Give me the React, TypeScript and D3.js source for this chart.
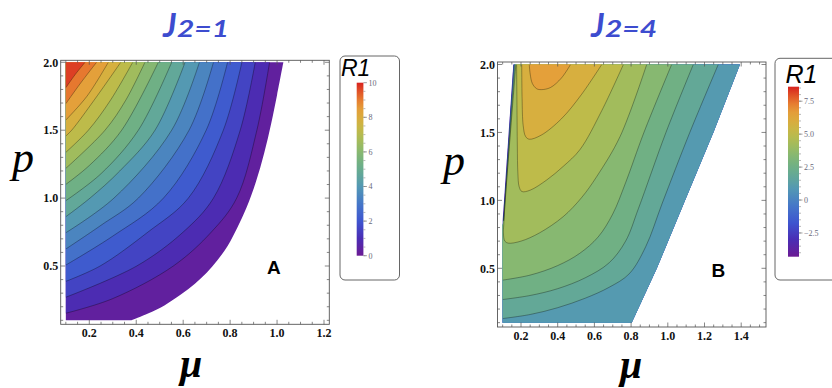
import React from 'react';
import * as d3 from 'd3';

type Pt = [number, number];

// ---------- shared ----------
const pTicks = [0.5, 1.0, 1.5, 2.0];

// Mathematica-like "Rainbow" colour ramp, position 0..1 along the legend
const rainbowT = [0, 0.1, 0.2, 0.3, 0.4, 0.47, 0.535, 0.6, 0.66, 0.72, 0.78, 0.845, 0.91, 1];
const rainbowC = ['#6b1a94', '#4a2db4', '#3e55cf', '#4577c8', '#5398b4', '#62a898', '#70b084',
  '#88b870', '#a2bc5c', '#bebb4a', '#d6b03f', '#e4a03a', '#e6762e', '#d8221e'];
const rainbow = d3.scaleLinear<string>().domain(rainbowT).range(rainbowC).interpolate(d3.interpolateRgb);

// ---------- panel A : J2 = 1 ----------
const muTicksA = [0.2, 0.4, 0.6, 0.8, 1.0, 1.2];
const legendA = [0, 10];
const legendTicksA = [0, 2, 4, 6, 8, 10];
const levelsA = [0.625, 1.25, 1.875, 2.5, 3.125, 3.75, 4.375, 5, 5.625, 6.25, 6.875, 7.5, 8.125, 8.75, 9.375];
// level curves [mu, p], lowest level first
const curvesA: Pt[][] = [
  [[0.1, 0.152], [0.3, 0.26], [0.558, 0.5], [0.72, 0.75], [0.828, 1.0], [0.914, 1.5], [0.968, 2.0]],
  [[0.1, 0.27], [0.402, 0.5], [0.6, 0.75], [0.729, 1.0], [0.843, 1.5], [0.907, 2.0]],
  [[0.1, 0.387], [0.246, 0.5], [0.45, 0.75], [0.622, 1.0], [0.771, 1.5], [0.85, 2.0]],
  [[0.1, 0.507], [0.3, 0.72], [0.516, 1.0], [0.698, 1.5], [0.789, 2.0]],
  [[0.1, 0.625], [0.25, 0.8], [0.409, 1.0], [0.625, 1.5], [0.729, 2.0]],
  [[0.1, 0.745], [0.305, 1.0], [0.551, 1.5], [0.669, 2.0]],
  [[0.1, 0.863], [0.203, 1.0], [0.33, 1.2], [0.48, 1.5], [0.608, 2.0]],
  [[0.1, 0.981], [0.25, 1.18], [0.409, 1.5], [0.551, 2.0]],
  [[0.1, 1.101], [0.2, 1.24], [0.338, 1.5], [0.494, 2.0]],
  [[0.1, 1.219], [0.267, 1.5], [0.355, 1.72], [0.437, 2.0]],
  [[0.1, 1.337], [0.196, 1.5], [0.29, 1.72], [0.385, 2.0]],
  [[0.1, 1.457], [0.125, 1.5], [0.22, 1.72], [0.334, 2.0]],
  [[0.1, 1.575], [0.19, 1.75], [0.281, 2.0]],
  [[0.1, 1.695], [0.16, 1.84], [0.231, 2.0]],
  [[0.1, 1.813], [0.14, 1.91], [0.182, 2.0]],
];
// right edge of the region where R1 is defined
const edgeA: Pt[] = [[1.027, 2.0], [1.0, 1.76], [0.975, 1.55], [0.945, 1.33], [0.91, 1.12], [0.87, 0.93],
  [0.83, 0.78], [0.79, 0.65], [0.745, 0.54], [0.7, 0.45], [0.65, 0.37], [0.59, 0.29], [0.52, 0.21],
  [0.45, 0.15], [0.38, 0.1]];

// ---------- panel B : J2 = 4 ----------
const muTicksB = [0.2, 0.4, 0.6, 0.8, 1.0, 1.2, 1.4];
const legendB = [-4.3, 8.6];
const legendTicksB = [-2.5, 0, 2.5, 5, 7.5];
const levelsB = [-1.8, -1.0, -0.2, 0.6, 1.4, 2.2, 3.0, 3.8, 4.6, 5.4, 6.2];
const topB = 7.0;
// steep parts of the lower levels along the cut on the left: [mu at p=2, mu at p=0.85]
const stripB: Pt[] = [[0.1595, 0.1038], [0.161, 0.1042], [0.1625, 0.1046], [0.164, 0.105],
  [0.1655, 0.1054], [0.167, 0.1058], [0.1685, 0.1062]];
// levels 1.4, 2.2, 3.0 : from the left edge to the top edge
const risingB: Pt[][] = [
  [[0.1, 0.13], [0.25, 0.16], [0.4, 0.21], [0.55, 0.28], [0.68, 0.36], [0.79, 0.46], [0.88, 0.66], [0.97, 0.98], [1.12, 1.5], [1.275, 2.0]],
  [[0.1, 0.27], [0.25, 0.3], [0.4, 0.35], [0.55, 0.43], [0.68, 0.54], [0.77, 0.7], [0.84, 0.94], [0.99, 1.5], [1.139, 2.0]],
  [[0.1, 0.413], [0.25, 0.45], [0.4, 0.52], [0.52, 0.61], [0.62, 0.73], [0.7, 0.9], [0.77, 1.13], [0.87, 1.5], [1.021, 2.0]],
];
// levels 3.8 .. 6.2 : cups opening to the top edge
const cupsB: Pt[][] = [
  [[0.172, 2.0], [0.114, 1.0], [0.106, 0.82], [0.104, 0.76], [0.112, 0.7], [0.13, 0.685], [0.2, 0.7], [0.3, 0.76],
    [0.43, 0.88], [0.53, 1.02], [0.613, 1.176], [0.74, 1.47], [0.885, 2.0]],
  [[0.176, 2.0], [0.178, 1.7], [0.18, 1.4], [0.183, 1.2], [0.19, 1.1], [0.205, 1.065], [0.25, 1.075], [0.34, 1.15],
    [0.43, 1.25], [0.521, 1.373], [0.64, 1.66], [0.758, 2.0]],
  [[0.204, 2.0], [0.206, 1.75], [0.212, 1.55], [0.225, 1.47], [0.245, 1.45], [0.31, 1.48], [0.42, 1.6], [0.53, 1.78], [0.64, 2.0]],
  [[0.245, 2.0], [0.25, 1.93], [0.262, 1.86], [0.285, 1.822], [0.31, 1.815], [0.36, 1.83], [0.42, 1.9], [0.47, 2.0]],
];
const edgeB: Pt[] = [[0.1, 0.1], [0.1, 0.85], [0.158, 2.0], [1.393, 2.0], [1.248, 1.5], [1.094, 1.0], [0.94, 0.5], [0.803, 0.1]];

const serif = '"Liberation Serif", "Times New Roman", serif';
const sans = '"Liberation Sans", Arial, sans-serif';

type Frame = { x0: number; x1: number; y0: number; y1: number };

function Axes({ x, y, frame, muTicks }: { x: d3.ScaleLinear<number, number>; y: d3.ScaleLinear<number, number>; frame: Frame; muTicks: number[] }) {
  const muMin = x.invert(frame.x0), muMax = x.invert(frame.x1);
  const pMin = y.invert(frame.y1), pMax = y.invert(frame.y0);
  const minorMu = d3.range(0, 2, 0.05).map(v => +v.toFixed(2)).filter(v => v > muMin && v < muMax);
  const minorP = d3.range(0, 2.2, 0.1).map(v => +v.toFixed(2)).filter(v => v > pMin && v < pMax);
  const isMajorMu = (v: number) => muTicks.some(t => Math.abs(t - v) < 1e-6);
  const isMajorP = (v: number) => pTicks.some(t => Math.abs(t - v) < 1e-6);
  const f = d3.format('.1f');
  const col = '#555';
  return (
    <g>
      <rect x={frame.x0} y={frame.y0} width={frame.x1 - frame.x0} height={frame.y1 - frame.y0}
        fill="none" stroke={col} strokeWidth={0.9} />
      {minorMu.map(v => {
        const len = isMajorMu(v) ? 4.5 : 2.5;
        return (
          <g key={'mx' + v}>
            <line x1={x(v)} x2={x(v)} y1={frame.y1} y2={frame.y1 - len} stroke={col} strokeWidth={0.7} />
            <line x1={x(v)} x2={x(v)} y1={frame.y0} y2={frame.y0 + len} stroke={col} strokeWidth={0.7} />
          </g>
        );
      })}
      {minorP.map(v => {
        const len = isMajorP(v) ? 4.5 : 2.5;
        return (
          <g key={'my' + v}>
            <line y1={y(v)} y2={y(v)} x1={frame.x0} x2={frame.x0 + len} stroke={col} strokeWidth={0.7} />
            <line y1={y(v)} y2={y(v)} x1={frame.x1} x2={frame.x1 - len} stroke={col} strokeWidth={0.7} />
          </g>
        );
      })}
      {muTicks.map(v => (
        <text key={'lx' + v} x={x(v)} y={frame.y1 + 12.5} textAnchor="middle" fontFamily={serif}
          fontWeight={700} fontSize={12} fill="#111">{f(v)}</text>
      ))}
      {pTicks.map(v => (
        <text key={'ly' + v} x={frame.x0 - 2.5} y={y(v)} dy="0.35em" textAnchor="end" fontFamily={serif}
          fontWeight={700} fontSize={12} fill="#111">{f(v)}</text>
      ))}
    </g>
  );
}

function Legend({ box, bar, domain, ticks, labelX, r1 }: {
  box: { x: number; y: number; w: number; h: number };
  bar: { x: number; w: number; y0: number; y1: number };
  domain: number[]; ticks: number[]; labelX: number;
  r1: { x: number; y: number; size: number };
}) {
  const s = d3.scaleLinear().domain(domain).range([bar.y1, bar.y0]);
  const minor = d3.range(Math.ceil(domain[0] * 2) / 2, domain[1], 0.5);
  const fmt = (v: number) => (v === 0 ? '0' : Number.isInteger(v) && domain[1] > 9 ? String(v) : d3.format('.1f')(v));
  return (
    <g>
      <rect x={box.x} y={box.y} width={box.w} height={box.h} rx={5} fill="#fff" stroke="#555" strokeWidth={0.9} />
      <rect x={bar.x} y={bar.y0} width={bar.w} height={bar.y1 - bar.y0} fill="url(#rainbowGrad)" />
      {minor.map(v => (
        <line key={'m' + v} x1={bar.x + bar.w} x2={bar.x + bar.w + 2} y1={s(v)} y2={s(v)} stroke="#888" strokeWidth={0.6} />
      ))}
      {ticks.map(v => (
        <g key={'t' + v}>
          <line x1={bar.x + bar.w} x2={bar.x + bar.w + 3.5} y1={s(v)} y2={s(v)} stroke="#777" strokeWidth={0.7} />
          <text x={labelX} y={s(v)} dy="0.35em" fontFamily={serif} fontSize={8} fill="#6a6a7a">
            {fmt(v).replace('-', '\u2212')}
          </text>
        </g>
      ))}
      <text x={r1.x} y={r1.y} fontFamily={sans} fontStyle="italic" fontSize={r1.size} fill="#000">R1</text>
    </g>
  );
}

function PanelA() {
  const x = d3.scaleLinear().domain([0.2, 1.2]).range([89.3, 324]);
  const y = d3.scaleLinear().domain([0.5, 2.0]).range([266, 62.3]);
  const frame = { x0: 60.7, x1: 329.3, y0: 60.3, y1: 324.3 };
  const line = d3.line<Pt>().x(d => x(d[0])).y(d => y(d[1])).curve(d3.curveCatmullRom.alpha(0.5));
  const edges = [legendA[0], ...levelsA, legendA[1]];
  const band = (i: number) => rainbow(((edges[i] + edges[i + 1]) / 2 - legendA[0]) / (legendA[1] - legendA[0]));
  const clip = `M${x(0.1)},${y(0.1)}L${x(0.1)},${y(2)}` + (line(edgeA) as string).replace(/^M/, 'L') + 'Z';
  return (
    <g>
      <defs>
        <clipPath id="clipA"><path d={clip} /></clipPath>
      </defs>
      <g clipPath="url(#clipA)">
        <rect x={0} y={0} width={420} height={388} fill={band(0)} />
        {curvesA.map((c, i) => {
          const last = c[c.length - 1];
          const d = (line(c) as string) + `L${x(last[0])},${y(2.3)}L${x(0)},${y(2.3)}L${x(0)},${y(c[0][1])}Z`;
          return <path key={i} d={d} fill={band(i + 1)} />;
        })}
        {curvesA.map((c, i) => (
          <path key={'s' + i} d={line(c) as string} fill="none" stroke="#000" strokeOpacity={0.45} strokeWidth={0.7} />
        ))}
      </g>
      <Axes x={x} y={y} frame={frame} muTicks={muTicksA} />
      <text x={267} y={274} fontFamily={sans} fontWeight={700} fontSize={19}>A</text>
      <Legend box={{ x: 340, y: 56, w: 59.5, h: 224 }} bar={{ x: 356.7, w: 6.7, y0: 82.7, y1: 255.7 }}
        domain={legendA} ticks={legendTicksA} labelX={368.5} r1={{ x: 341, y: 76, size: 23 }} />
    </g>
  );
}

function PanelB() {
  const x = d3.scaleLinear().domain([0.2, 1.4]).range([521, 741.2]);
  const y = d3.scaleLinear().domain([0.5, 2.0]).range([268.3, 64.5]);
  const frame = { x0: 497.5, x1: 766, y0: 62, y1: 327 };
  const line = d3.line<Pt>().x(d => x(d[0])).y(d => y(d[1])).curve(d3.curveCatmullRom.alpha(0.5));
  const poly = d3.line<Pt>().x(d => x(d[0])).y(d => y(d[1]));
  const edges = [legendB[0], ...levelsB, topB];
  const band = (i: number) => rainbow(((edges[i] + edges[i + 1]) / 2 - legendB[0]) / (legendB[1] - legendB[0]));
  const nStrip = levelsB.length - risingB.length - cupsB.length;
  const L = (m: number, p: number) => `L${x(m)},${y(p)}`;
  return (
    <g>
      <defs>
        <clipPath id="clipB"><path d={(poly(edgeB) as string) + 'Z'} /></clipPath>
      </defs>
      <g clipPath="url(#clipB)">
        <rect x={420} y={0} width={412} height={388} fill={band(0)} />
        {stripB.slice(0, nStrip).map(([t, b], i) => (
          <path key={'st' + i} fill={band(i + 1)}
            d={`M${x(t)},${y(2.3)}` + L(t, 2.0) + L(b, 0.85) + L(0.1, 0.82) + L(0, 0.82) + L(0, 0) + L(2, 0) + L(2, 2.3) + 'Z'} />
        ))}
        {risingB.map((c, i) => {
          const [t, b] = stripB[nStrip + i];
          const last = c[c.length - 1];
          const d = `M${x(0)},${y(c[0][1])}` + (line(c) as string).replace(/^M/, 'L') + L(last[0], 2.3) + L(t, 2.3) +
            L(t, 2.0) + L(b, 0.85) + L(0.1, 0.82) + L(0, 0.82) + 'Z';
          return <path key={'r' + i} d={d} fill={band(nStrip + i + 1)} />;
        })}
        {cupsB.map((c, i) => {
          const last = c[c.length - 1];
          const d = (line(c) as string) + L(last[0], 2.3) + L(c[0][0], 2.3) + 'Z';
          return <path key={'c' + i} d={d} fill={band(nStrip + risingB.length + i + 1)} />;
        })}
        {stripB.map(([t, b], i) => (
          <path key={'ss' + i} d={`M${x(t)},${y(2.0)}` + L(b, 0.85)} fill="none" stroke="#000" strokeOpacity={0.18} strokeWidth={0.5} />
        ))}
        {[...risingB, ...cupsB].map((c, i) => (
          <path key={'cs' + i} d={line(c) as string} fill="none" stroke="#000" strokeOpacity={0.45} strokeWidth={0.7} />
        ))}
      </g>
      <Axes x={x} y={y} frame={frame} muTicks={muTicksB} />
      <text x={711.5} y={276.5} fontFamily={sans} fontWeight={700} fontSize={19}>B</text>
      <Legend box={{ x: 775, y: 58.3, w: 62, h: 221.7 }} bar={{ x: 788, w: 11, y0: 86.7, y1: 256.7 }}
        domain={legendB} ticks={legendTicksB} labelX={804} r1={{ x: 785.5, y: 83, size: 25 }} />
    </g>
  );
}

function Title({ x, text }: { x: number; text: string }) {
  return (
    <g fill="#3d4ccf" fontFamily="Lato, sans-serif" fontStyle="italic" fontWeight={700}>
      <text x={x} y={37} fontSize={33}>J</text>
      <text x={x + 14} y={37} fontSize={23} textLength={52} lengthAdjust="spacingAndGlyphs">{text}</text>
    </g>
  );
}

export default function App() {
  const gradStops = d3.range(0, 1.0001, 0.05);
  return (
    <svg width={832} height={388} style={{ position: 'absolute', left: 0, top: 0, background: '#fff' }}>
      <defs>
        <linearGradient id="rainbowGrad" x1="0" y1="1" x2="0" y2="0">
          {gradStops.map(t => <stop key={t} offset={t} stopColor={rainbow(t)} />)}
        </linearGradient>
      </defs>
      <rect width={832} height={388} fill="#fff" />
      <Title x={163} text="2=1" />
      <Title x={591} text="2=4" />
      <PanelA />
      <PanelB />
      <text x={12} y={172} fontFamily={serif} fontStyle="italic" fontSize={44}>p</text>
      <text x={443} y={175} fontFamily={serif} fontStyle="italic" fontSize={44}>p</text>
      <text x={180} y={377} fontFamily={serif} fontStyle="italic" fontWeight={700} fontSize={40}>μ</text>
      <text x={620} y={377.5} fontFamily={serif} fontStyle="italic" fontWeight={700} fontSize={40}>μ</text>
    </svg>
  );
}
